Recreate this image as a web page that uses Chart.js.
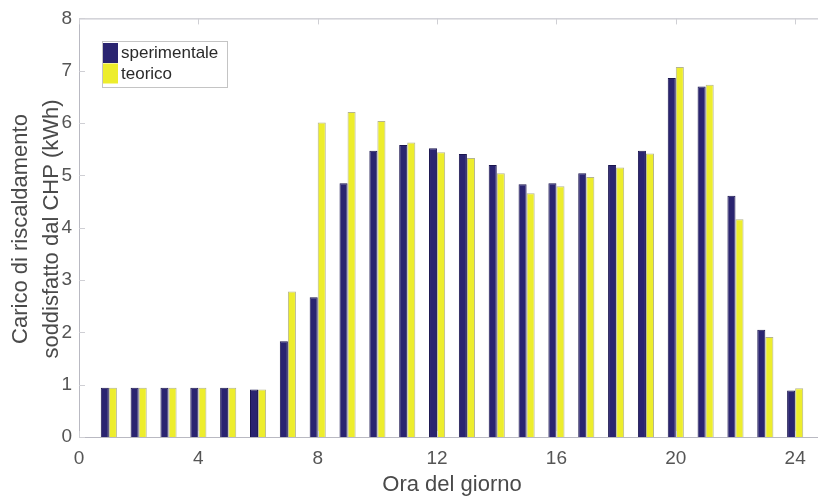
<!DOCTYPE html>
<html><head><meta charset="utf-8">
<script src="https://cdn.jsdelivr.net/npm/chart.js@4.4.1/dist/chart.umd.min.js"></script>
<style>
html,body{margin:0;padding:0;background:#fff;overflow:hidden}
#wrap{width:836px;height:499px;position:relative}
canvas{display:block}
</style>
</head><body><div id="wrap"><canvas id="c" width="836" height="499" style="width:836px;height:499px"></canvas></div>
<script>
const hours = [1,2,3,4,5,6,7,8,9,10,11,12,13,14,15,16,17,18,19,20,21,22,23,24];
const sperimentale = [0.94,0.94,0.94,0.94,0.94,0.91,1.83,2.67,4.85,5.47,5.58,5.52,5.41,5.20,4.83,4.85,5.04,5.20,5.47,6.86,6.70,4.61,2.05,0.89];
const teorico      = [0.94,0.94,0.94,0.94,0.94,0.91,2.78,6.01,6.21,6.04,5.63,5.44,5.33,5.04,4.66,4.79,4.97,5.15,5.42,7.07,6.73,4.16,1.91,0.93];
const xTicks = [0,4,8,12,16,20,24];
const yTicks = [0,1,2,3,4,5,6,7,8];
const seriesNames = ['sperimentale','teorico'];
const xTitle = 'Ora del giorno';
const yTitle = ['Carico di riscaldamento','soddisfatto dal CHP (kWh)'];

const FONT = '"Liberation Sans", Arial, Helvetica, sans-serif';
const DARK = '#2a2470';
const YEL = '#eded2c';

const frame = {
  id: 'frame',
  afterDatasetsDraw(chart) {
    const {ctx, chartArea: a, scales} = chart;
    const xs = scales.x, ys = scales.y;
    ctx.save();
    ctx.strokeStyle = '#b9b9c2';
    ctx.lineWidth = 1;
    ctx.beginPath();
    ctx.moveTo(a.left + 0.5, a.top + 0.5); ctx.lineTo(a.left + 0.5, a.bottom + 0.5);
    ctx.moveTo(a.left, a.bottom + 0.5); ctx.lineTo(a.right, a.bottom + 0.5);
    ctx.moveTo(a.left, a.top + 0.5); ctx.lineTo(a.right, a.top + 0.5);
    ctx.stroke();
    ctx.strokeStyle = '#cfcfd4';
    ctx.beginPath();
    xTicks.forEach(v => {
      const px = Math.round(xs.getPixelForValue(v)) + 0.5;
      ctx.moveTo(px, a.bottom); ctx.lineTo(px, a.bottom - 6);
      ctx.moveTo(px, a.top); ctx.lineTo(px, a.top + 6);
    });
    yTicks.forEach(v => {
      const py = Math.round(ys.getPixelForValue(v)) + 0.5;
      ctx.moveTo(a.left, py); ctx.lineTo(a.left + 6, py);
    });
    ctx.stroke();

    // legend
    ctx.fillStyle = '#fff';
    ctx.fillRect(102, 41, 125, 46);
    ctx.strokeStyle = '#c4c4c4';
    ctx.strokeRect(102.5, 41.5, 125, 46);
    const cols = [DARK, YEL];
    ctx.font = '17px ' + FONT;
    ctx.textBaseline = 'middle';
    ctx.textAlign = 'left';
    chart.data.datasets.forEach((ds, i) => {
      const y0 = 43 + i * 20.5;
      ctx.fillStyle = cols[i];
      ctx.fillRect(103, y0, 15, 20);
      ctx.fillStyle = '#2a2a2a';
      ctx.fillText(ds.label, 121, y0 + 10.5);
    });

    // titles
    ctx.fillStyle = '#4a4a4a';
    ctx.font = '22px ' + FONT;
    ctx.textAlign = 'center';
    ctx.textBaseline = 'alphabetic';
    ctx.fillText(xTitle, 452, 491);
    [27, 58].forEach((bx, i) => {
      ctx.save();
      ctx.translate(bx, 229);
      ctx.rotate(-Math.PI / 2);
      ctx.fillText(yTitle[i], 0, 0);
      ctx.restore();
    });
    ctx.restore();
  }
};

new Chart(document.getElementById('c'), {
  type: 'bar',
  data: {
    datasets: [
      { label: seriesNames[0], data: hours.map((h, i) => ({x: h, y: sperimentale[i]})),
        backgroundColor: DARK, borderColor: '#1b164f', borderWidth: 1 },
      { label: seriesNames[1], data: hours.map((h, i) => ({x: h, y: teorico[i]})),
        backgroundColor: YEL, borderColor: 'rgba(120,120,50,0.55)', borderWidth: 1 }
    ]
  },
  options: {
    responsive: false,
    maintainAspectRatio: false,
    devicePixelRatio: 1,
    animation: false,
    events: [],
    categoryPercentage: 0.54,
    barPercentage: 1,
    layout: { padding: { top: 16, right: 11, left: 0, bottom: 0 } },
    plugins: { legend: { display: false }, tooltip: { enabled: false }, title: { display: false } },
    scales: {
      x: {
        type: 'linear', min: 0, max: 25, offset: false,
        afterBuildTicks: s => { s.ticks = xTicks.map(v => ({value: v})); },
        afterFit: s => { s.height = 62; },
        grid: { display: false, drawTicks: false },
        border: { display: false },
        ticks: { font: { family: FONT, size: 19 }, color: '#555', padding: 10, maxRotation: 0, autoSkip: false }
      },
      y: {
        type: 'linear', min: 0, max: 8,
        afterBuildTicks: s => { s.ticks = yTicks.map(v => ({value: v})); },
        afterFit: s => { s.width = 79; },
        grid: { display: false, drawTicks: false },
        border: { display: false },
        ticks: { font: { family: FONT, size: 19 }, color: '#555', padding: 7 }
      }
    }
  },
  plugins: [frame]
});
</script>
</body></html>
